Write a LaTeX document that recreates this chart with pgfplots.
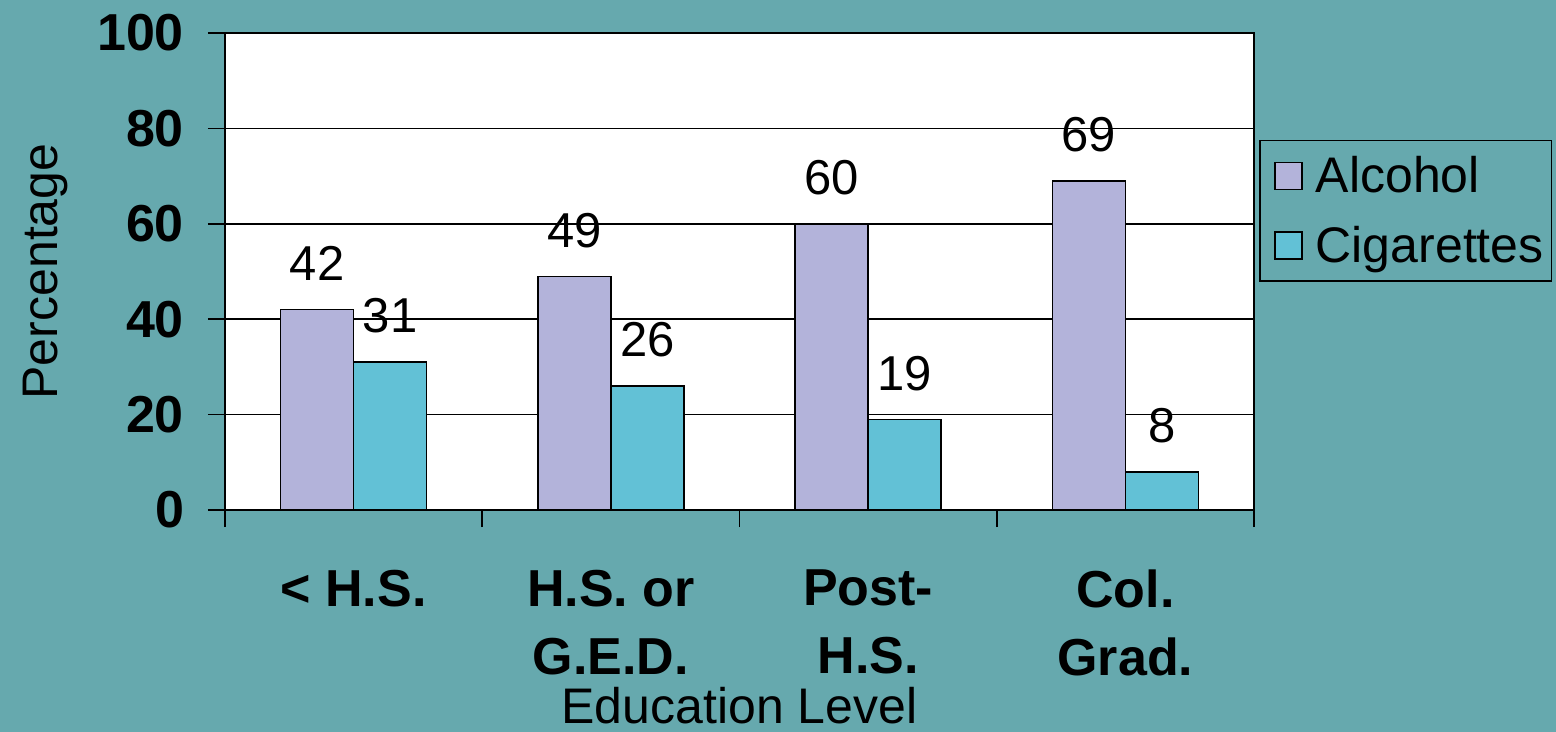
\documentclass[border=0pt]{standalone}
\usepackage{fontspec}
\setmainfont{Liberation Sans}
\usepackage{pgfplots}
\pgfplotsset{compat=1.18}
\definecolor{bg}{HTML}{66A9AE}
\definecolor{alc}{HTML}{B3B3DA}
\definecolor{cig}{HTML}{62C1D6}
\begin{document}
\begin{tikzpicture}
\path[use as bounding box, fill=bg] (-112.5pt,-111pt) rectangle (665.5pt,255pt);
\begin{axis}[
  at={(0pt,0pt)}, anchor=south west,
  scale only axis, width=514.5pt, height=238.5pt,
  xmin=-0.5, xmax=3.5, ymin=0, ymax=100,
  axis background/.style={fill=white},
  axis line style={black, line width=0.75pt},
  ybar, bar width=0.284,
  ytick={0,20,...,100},
  ymajorgrids, grid style={black, line width=0.75pt},
  tick style={black, line width=0.75pt},
  tick align=outside, major tick length=8.5pt,
  xtick pos=bottom, ytick pos=left,
  xtick={-0.5,0.5,1.5,2.5,3.5},
  x tick label as interval,
  xticklabels={{< H.S.},{H.S. or\\G.E.D.},{Post-\\H.S.},{Col.\\Grad.}},
  xticklabel style={font=\fontsize{26}{34}\selectfont\bfseries, align=center, anchor=north, yshift=-18pt},
  yticklabel style={font=\fontsize{26}{30}\selectfont\bfseries, xshift=-8.5pt},
  /pgf/number format/assume math mode=true,
  ylabel={Percentage},
  ylabel style={font=\fontsize{25}{30}\selectfont, at={(axis description cs:0,0.5)}, anchor=center, yshift=90pt},
  xlabel={Education Level},
  xlabel style={font=\fontsize{25}{30}\selectfont, at={(axis description cs:0.5,0)}, anchor=center, yshift=-98pt},
  nodes near coords,
  every node near coord/.append style={font=\fontsize{24.5}{30}\selectfont, inner sep=0pt, anchor=south, yshift=14pt, black},
  legend style={at={(axis description cs:1,0.776)}, anchor=north west, xshift=2.5pt,
    draw=black, line width=0.75pt, fill=bg, font=\fontsize{25}{30}\selectfont,
    inner xsep=0pt, inner ysep=6pt, row sep=11pt, nodes={inner xsep=4pt}},
  legend cell align=left,
  legend image code/.code={\draw[#1, line width=0.75pt] (7.5pt,-6.75pt) rectangle (21pt,6.75pt);
    \path[draw=none, fill=none] (0pt,0pt) -- (24pt,0pt);},
]
\addplot[fill=alc, draw=black, line width=0.75pt, bar shift=-0.142] coordinates {(0,42) (1,49) (2,60) (3,69)};
\addplot[fill=cig, draw=black, line width=0.75pt, bar shift=0.142] coordinates {(0,31) (1,26) (2,19) (3,8)};
\legend{Alcohol, Cigarettes}
\end{axis}
\end{tikzpicture}
\end{document}
